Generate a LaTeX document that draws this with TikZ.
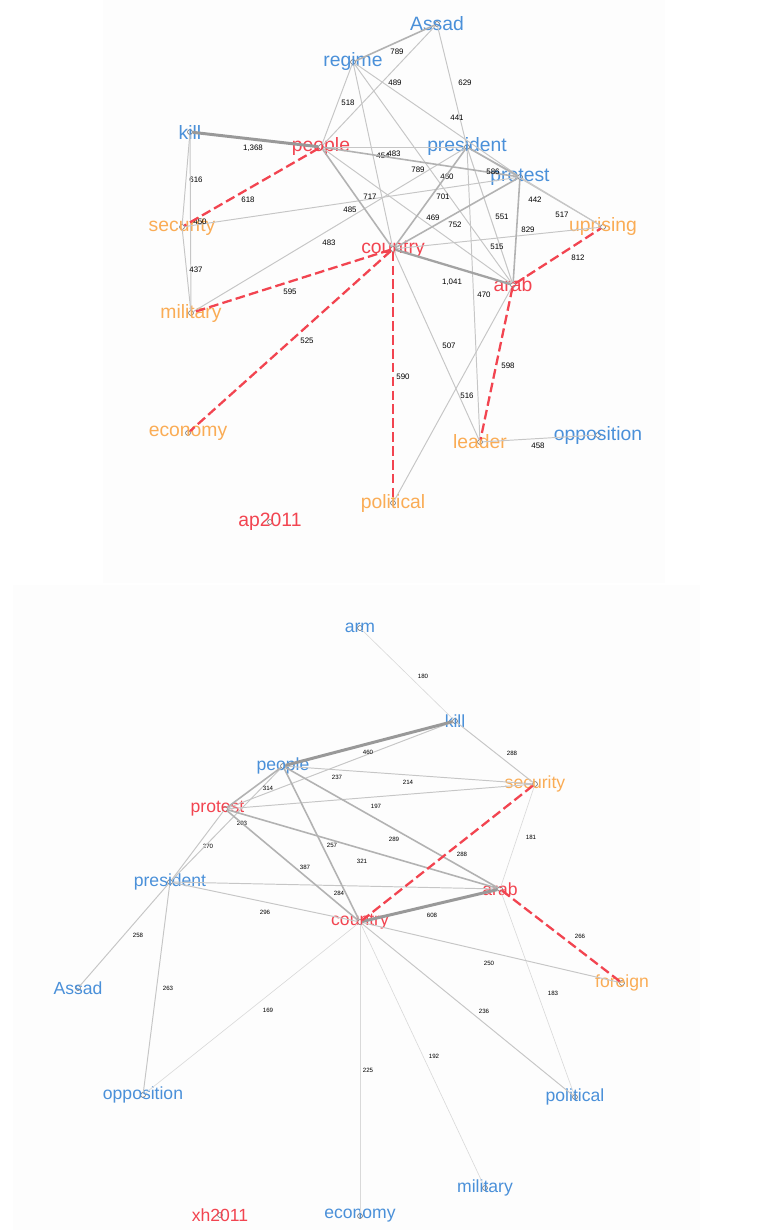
\documentclass[tikz,border=0pt]{standalone}
\usepackage{fontspec}
\setmainfont{Liberation Sans}
\definecolor{wblue}{RGB}{74,144,217}
\definecolor{wred}{RGB}{242,68,80}
\definecolor{worange}{RGB}{250,172,85}

\begin{document}
\begin{tikzpicture}[x=0.02cm,y=-0.02cm,
    lbl/.style={font=\fontsize{11}{13}\selectfont,inner sep=0pt},
    num/.style={font=\fontsize{4.5}{5}\selectfont,inner sep=0pt},
    pt/.style={circle,draw=gray!70!black,line width=0.3pt,inner sep=0pt,minimum size=2.8pt},
    bl/.style={pt,label={[lbl,text=wblue]center:#1}},
    rd/.style={pt,label={[lbl,text=wred]center:#1}},
    og/.style={pt,label={[lbl,text=worange]center:#1}},
    e0/.style={draw=gray!30,line width=0.35pt},
    e1/.style={draw=gray!45,line width=0.55pt},
    e2/.style={draw=gray!60,line width=0.9pt},
    e3/.style={draw=gray!72,line width=1.3pt},
    e4/.style={draw=gray!80,line width=1.7pt},
    rdash/.style={draw=wred,line width=1.3pt,dash pattern=on 5.5pt off 2.4pt}]
    \useasboundingbox (0,0) rectangle (775,1230);
    \fill[gray!1.3] (103,0) rectangle (665,583);
    \fill[gray!1.3] (13,585) rectangle (700,1230);

    % ap2011
    \node[bl=Assad] (apassad) at (437,24) {};
    \node[bl=regime] (apregime) at (353,62) {};
    \node[bl=kill] (apkill) at (190,132) {};
    \node[rd=people] (appeople) at (321,147) {};
    \node[bl=president] (appresident) at (467,147) {};
    \node[bl=protest] (approtest) at (520,177) {};
    \node[og=uprising] (apuprising) at (603,227) {};
    \node[rd=country] (apcountry) at (393,249) {};
    \node[rd=arab] (aparab) at (513,285) {};
    \node[og=security] (apsecurity) at (182,227) {};
    \node[og=military] (apmilitary) at (191,313) {};
    \node[og=economy] (apeconomy) at (188,433) {};
    \node[og=political] (appolitical) at (393,503) {};
    \node[og=leader] (apleader) at (480,442) {};
    \node[bl=opposition] (apopposition) at (598,435) {};
    \node[rd=ap2011] (aptitle) at (270,522) {};

    \draw[e1] (apassad) -- (appeople) node[num] at (395,83) {489};
    \draw[e1] (apassad) -- (appresident) node[num] at (465,83) {629};
    \draw[e1] (apregime) -- (appeople) node[num] at (348,103) {518};
    \draw[e1] (apregime) -- (approtest) node[num] at (457,118) {441};
    \draw[e1] (apregime) -- (apcountry) node[num] at (383,156) {454};
    \draw[e1] (appeople) -- (appresident) node[num] at (394,154) {483};
    \draw[e1] (apregime) -- (aparab) node[num] at (447,177) {460};
    \draw[e1] (appeople) -- (aparab) node[num] at (433,218) {469};
    \draw[e1] (appresident) -- (aparab) node[num] at (502,217) {551};
    \draw[e1] (appresident) -- (apuprising) node[num] at (535,200) {442};
    \draw[e1] (approtest) -- (apuprising) node[num] at (562,215) {517};
    \draw[e1] (apcountry) -- (apuprising) node[num] at (497,247) {515};
    \draw[e1] (apsecurity) -- (approtest) node[num] at (350,210) {485};
    \draw[e1] (apmilitary) -- (appresident) node[num] at (329,243) {483};
    \draw[e1] (apkill) -- (apsecurity) node[num] at (196,180) {616};
    \draw[e1] (apkill) -- (apmilitary) node[num] at (200,222) {450};
    \draw[e1] (apsecurity) -- (apmilitary) node[num] at (196,270) {437};
    \draw[e1] (apcountry) -- (apleader) node[num] at (449,346) {507};
    \draw[e1] (appresident) -- (apleader) node[num] at (484,295) {470};
    \draw[e1] (aparab) -- (appolitical) node[num] at (467,396) {516};
    \draw[e1] (apleader) -- (apopposition) node[num] at (538,446) {458};
    \draw[e2] (apassad) -- (apregime) node[num] at (397,52) {789};
    \draw[e2] (appeople) -- (approtest) node[num] at (418,170) {789};
    \draw[e2] (appresident) -- (approtest) node[num] at (493,172) {586};
    \draw[e2] (appeople) -- (apcountry) node[num] at (370,197) {717};
    \draw[e2] (appresident) -- (apcountry) node[num] at (443,197) {701};
    \draw[e2] (approtest) -- (apcountry) node[num] at (455,225) {752};
    \draw[e2] (approtest) -- (aparab) node[num] at (528,230) {829};
    \draw[e3] (apcountry) -- (aparab) node[num] at (452,282) {1,041};
    \draw[e4] (apkill) -- (appeople) node[num] at (253,148) {1,368};
    \draw[rdash] (appeople) -- (apsecurity) node[num] at (248,200) {618};
    \draw[rdash] (apcountry) -- (apmilitary) node[num] at (290,292) {595};
    \draw[rdash] (apcountry) -- (apeconomy) node[num] at (307,341) {525};
    \draw[rdash] (apcountry) -- (appolitical) node[num] at (403,377) {590};
    \draw[rdash] (aparab) -- (apleader) node[num] at (508,366) {598};
    \draw[rdash] (aparab) -- (apuprising) node[num] at (578,258) {812};

    % xh2011
    \begin{scope}[lbl/.append style={font=\fontsize{10}{12}\selectfont},
        num/.append style={font=\fontsize{3.5}{4}\selectfont}]
    \node[bl=arm] (xharm) at (360,628) {};
    \node[bl=kill] (xhkill) at (455,721) {};
    \node[bl=people] (xhpeople) at (283,766) {};
    \node[og=security] (xhsecurity) at (535,784) {};
    \node[pt,label={[lbl,text=wred,xshift=-0.15cm]center:protest}] (xhprotest) at (225,809) {};
    \node[bl=president] (xhpresident) at (170,882) {};
    \node[rd=arab] (xharab) at (500,889) {};
    \node[rd=country] (xhcountry) at (360,922) {};
    \node[bl=Assad] (xhassad) at (78,988) {};
    \node[og=foreign] (xhforeign) at (622,983) {};
    \node[bl=opposition] (xhopposition) at (143,1095) {};
    \node[bl=political] (xhpolitical) at (575,1097) {};
    \node[bl=military] (xhmilitary) at (485,1188) {};
    \node[bl=economy] (xheconomy) at (360,1216) {};
    \node[rd=xh2011] (xhtitle) at (220,1215) {};

    \draw[e0] (xharm) -- (xhkill) node[num] at (423,676) {180};
    \draw[e0] (xhcountry) -- (xhopposition) node[num] at (268,1010) {169};
    \draw[e0] (xhcountry) -- (xheconomy) node[num] at (368,1070) {225};
    \draw[e0] (xhcountry) -- (xhmilitary) node[num] at (434,1056) {192};
    \draw[e0] (xharab) -- (xhpolitical) node[num] at (553,993) {183};
    \draw[e0] (xhsecurity) -- (xharab) node[num] at (531,837) {181};
    \draw[e1] (xhkill) -- (xhprotest) node[num] at (337,777) {237};
    \draw[e1] (xhkill) -- (xhsecurity) node[num] at (512,753) {288};
    \draw[e1] (xhpeople) -- (xhsecurity) node[num] at (408,782) {214};
    \draw[e1] (xhprotest) -- (xhsecurity) node[num] at (376,806) {197};
    \draw[e1] (xhpresident) -- (xharab) node[num] at (339,893) {284};
    \draw[e1] (xhpresident) -- (xhcountry) node[num] at (265,912) {296};
    \draw[e1] (xhprotest) -- (xhpresident) node[num] at (208,846) {270};
    \draw[e1] (xhpresident) -- (xhpeople) node[num] at (242,823) {203};
    \draw[e1] (xhpresident) -- (xhassad) node[num] at (138,935) {258};
    \draw[e1] (xhpresident) -- (xhopposition) node[num] at (168,988) {263};
    \draw[e1] (xhcountry) -- (xhpolitical) node[num] at (484,1011) {236};
    \draw[e1] (xhcountry) -- (xhforeign) node[num] at (489,963) {250};
    \draw[e2] (xhpeople) -- (xhprotest) node[num] at (268,788) {314};
    \draw[e2] (xhpeople) -- (xharab) node[num] at (394,839) {289};
    \draw[e2] (xhprotest) -- (xharab) node[num] at (362,861) {321};
    \draw[e2] (xhpeople) -- (xhcountry) node[num] at (332,845) {257};
    \draw[e2] (xhprotest) -- (xhcountry) node[num] at (305,867) {387};
    \draw[e4] (xhkill) -- (xhpeople) node[num] at (368,752) {460};
    \draw[e4] (xhcountry) -- (xharab) node[num] at (432,915) {608};
    \draw[rdash] (xhsecurity) -- (xhcountry) node[num] at (462,854) {288};
    \draw[rdash] (xharab) -- (xhforeign) node[num] at (580,936) {266};
    \end{scope}
\end{tikzpicture}
\end{document}
